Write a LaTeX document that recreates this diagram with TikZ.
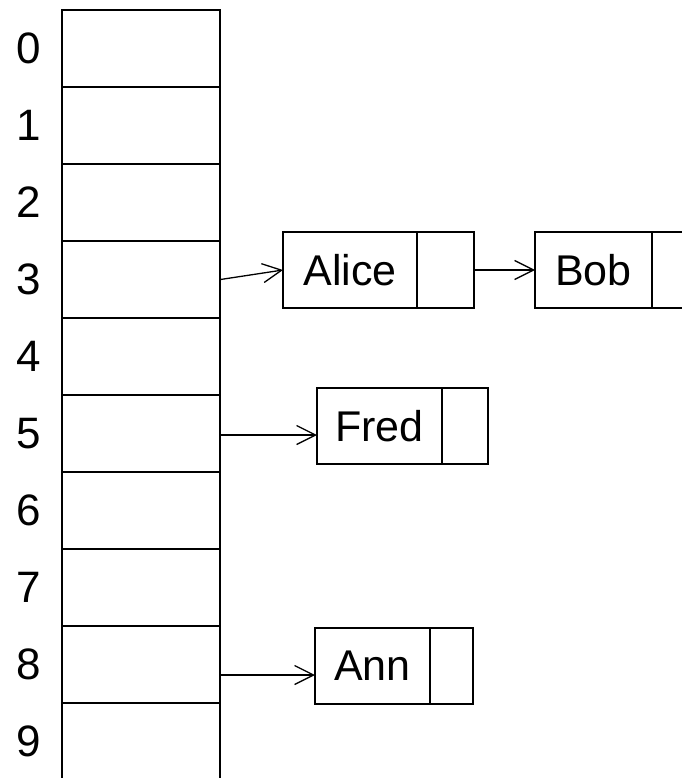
\documentclass[tikz,border=0pt]{standalone}
\usepackage{fontspec}
\setmainfont{Liberation Sans}
\usetikzlibrary{arrows.meta}

\tikzset{
  cell/.style={rectangle,draw,line width=2pt,inner sep=0pt,minimum width=158pt,minimum height=77pt},
  rec/.style={rectangle,draw,line width=2pt,inner sep=0pt,outer sep=0pt,minimum height=76pt,font=\fontsize{43pt}{50pt}\selectfont},
  idx/.style={font=\fontsize{44pt}{50pt}\selectfont},
  ptr/.style={draw,line width=1.3pt,-{Straight Barb[length=19pt,width=19pt]}}
}

\begin{document}
\begin{tikzpicture}[x=1pt,y=-1pt]
\useasboundingbox (0,0) rectangle (681,778);
\node(c0)[cell] at (140.5,48.5){};
\node(c1)[cell] at (140.5,125.5){};
\node(c2)[cell] at (140.5,202.5){};
\node(c3)[cell] at (140.5,279.5){};
\node(c4)[cell] at (140.5,356.5){};
\node(c5)[cell] at (140.5,433.5){};
\node(c6)[cell] at (140.5,510.5){};
\node(c7)[cell] at (140.5,587.5){};
\node(c8)[cell] at (140.5,664.5){};
\node(c9)[cell] at (140.5,741.5){};
\node(i0)[idx] at (29,48.5){0};
\node(i1)[idx] at (29,125.5){1};
\node(i2)[idx] at (29,202.5){2};
\node(i3)[idx] at (29,279.5){3};
\node(i4)[idx] at (29,356.5){4};
\node(i5)[idx] at (29,433.5){5};
\node(i6)[idx] at (29,510.5){6};
\node(i7)[idx] at (29,587.5){7};
\node(i8)[idx] at (29,664.5){8};
\node(i9)[idx] at (29,741.5){9};
\node(alice)[rec,minimum width=134pt] at (350,270){Alice};
\node(alicep)[rec,minimum width=57pt,anchor=west] at (alice.east){};
\node(bob)[rec,minimum width=117pt] at (593.5,270){Bob};
\node(bobp)[rec,minimum width=57pt,anchor=west] at (bob.east){};
\node(fred)[rec,minimum width=125pt] at (379.5,426){Fred};
\node(fredp)[rec,minimum width=46pt,anchor=west] at (fred.east){};
\node(ann)[rec,minimum width=115pt] at (372.5,665.5){Ann};
\node(annp)[rec,minimum width=43pt,anchor=west] at (ann.east){};
\coordinate(p5) at (219.5,435);
\coordinate(p8) at (219.5,675);
\path[ptr] (c3.east) -- (alice.west);
\path[ptr] (alicep.east) -- (bob.west);
\path[ptr] (p5) -- (p5 -| fred.west);
\path[ptr] (p8) -- (p8 -| ann.west);
\end{tikzpicture}
\end{document}
